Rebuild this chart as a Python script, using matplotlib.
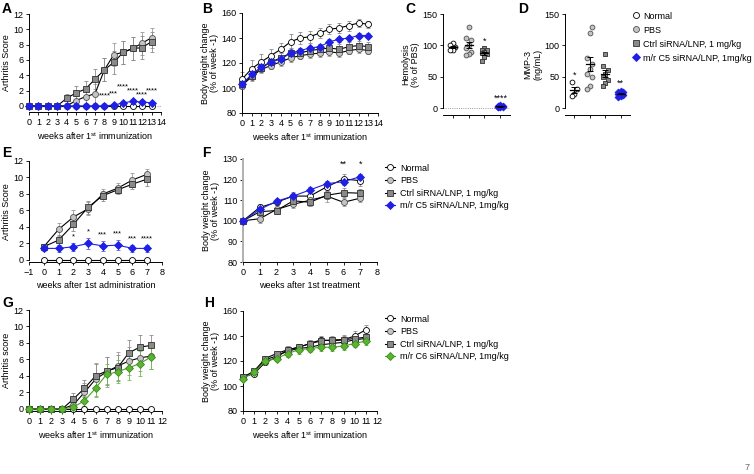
import numpy as np
import matplotlib
matplotlib.use('Agg')
import matplotlib.pyplot as plt
from matplotlib.lines import Line2D

plt.rcParams['font.family'] = ['Liberation Sans', 'DejaVu Sans']
plt.rcParams['mathtext.fontset'] = 'custom'
plt.rcParams['mathtext.rm'] = 'Liberation Sans'
plt.rcParams['axes.linewidth'] = 0.7

# ---- data -------------------------------------------------------------
# A: arthritis score, weeks 0-13
weeks_a = np.arange(14)
a_normal = np.zeros(14)
a_pbs = [0, 0, 0, 0, 0, 0.7, 1.2, 1.6, 4.7, 6.7, 7.0, 7.5, 8.2, 8.9]
a_pbs_err = [0, 0, 0, 0, 0, 0.6, 0.9, 1.2, 1.5, 1.5, 1.5, 1.5, 1.5, 1.3]
a_ctrl = [0, 0, 0, 0, 1.0, 1.7, 2.2, 3.5, 4.7, 5.7, 7.0, 7.5, 7.6, 8.4]
a_ctrl_err = [0, 0, 0, 0, 0.6, 0.9, 1.0, 1.3, 1.5, 1.5, 1.5, 1.5, 1.5, 1.3]
a_c5 = [0, 0, 0, 0, 0, 0, 0, 0, 0, 0.1, 0.4, 0.6, 0.5, 0.4]
a_c5_err = [0, 0, 0, 0, 0, 0, 0, 0, 0, 0.1, 0.3, 0.3, 0.3, 0.3]
a_stars = ['****', '***', '****', '****', '****', '****']
a_star_weeks = [8, 9, 10, 11, 12, 13]
a_star_y = [0.8, 1.15, 2.0, 1.5, 1.0, 1.5]

# B: body weight, weeks 0-13
b_normal = [107, 115.5, 121, 126, 131, 137, 140, 141, 144, 147, 148, 150, 152, 151]
b_normal_err = [6, 7, 6, 5, 5, 6, 5, 5, 4, 4, 4, 4, 3, 3]
b_pbs = [102, 109, 115, 118, 121, 124, 126, 127, 128, 129, 128, 130, 131, 130]
b_pbs_err = [3, 3, 3, 3, 3, 3, 3, 3, 3, 3, 3, 3, 3, 3]
b_ctrl = [103, 110, 116, 121, 124, 128, 128, 130, 131, 132, 131, 133, 134, 133]
b_ctrl_err = [3, 3, 3, 4, 4, 4, 4, 4, 4, 4, 4, 4, 4, 4]
b_c5 = [103, 111, 117, 121, 123, 128, 130, 132, 133, 137, 139, 140, 142, 142]
b_c5_err = [2, 2, 2, 2, 2, 2, 2, 2, 2, 2, 2, 2, 2, 2]

# C: hemolysis (% of PBS)
c_normal = [104, 101, 97, 93, 92]
c_pbs = [129, 112, 108, 100, 96, 90, 86, 84]
c_ctrl = [96, 93, 92, 90, 88, 86, 82, 75]
c_c5 = [5, 4, 3, 3, 2, 2, 1, 1]
c_stars = ['', '', '*', '****']

# D: MMP-3 (ng/mL)
d_normal = [42, 30, 22, 20]
d_pbs = [130, 119, 80, 70, 63, 55, 50, 35, 30]
d_ctrl = [87, 67, 60, 55, 50, 44, 40, 35]
d_c5 = [28, 26, 25, 24, 22, 21, 20, 18]
d_stars = ['*', '', '', '**']

# E: arthritis score, weeks 0-7 after administration
weeks_e = np.arange(8)
e_normal = np.zeros(8)
e_pbs = [1.6, 3.7, 5.2, 6.2, 8.0, 8.7, 9.7, 10.4]
e_pbs_err = [0.3, 0.8, 0.9, 0.8, 0.6, 0.6, 0.8, 0.6]
e_ctrl = [1.6, 2.4, 4.3, 6.4, 7.8, 8.5, 9.2, 9.8]
e_ctrl_err = [0.3, 0.6, 0.8, 0.8, 0.6, 0.5, 0.6, 0.8]
e_c5 = [1.4, 1.4, 1.6, 2.0, 1.7, 1.8, 1.4, 1.4]
e_c5_err = [0.3, 0.4, 0.5, 0.7, 0.6, 0.6, 0.4, 0.4]
e_stars = ['', '', '*', '*', '***', '***', '***', '****']

# F: body weight, weeks 0-7 after treatment
f_normal = [100, 106.5, 109, 112, 112, 116.5, 120.3, 119.5]
f_normal_err = [0, 1.5, 1.5, 2, 2, 2, 2.5, 2.5]
f_pbs = [100, 101, 105.5, 108, 110, 112, 109, 111]
f_pbs_err = [0, 2, 2, 2, 3, 3, 2, 2]
f_ctrl = [100, 104.4, 105, 109.7, 109, 112.4, 113.7, 113.4]
f_ctrl_err = [0, 1.5, 1.5, 2, 2, 2, 2, 2]
f_c5 = [100, 105.5, 109.5, 112, 115, 118, 119, 121.4]
f_c5_err = [0, 1, 1, 1, 1.5, 1.5, 1.5, 1.5]
f_stars = ['', '', '', '', '', '', '**', '*']

# G: arthritis score, weeks 0-11
weeks_g = np.arange(12)
g_normal = np.zeros(12)
g_pbs = [0, 0, 0, 0, 0.5, 2.0, 3.6, 4.5, 5.2, 5.8, 6.2, 6.4]
g_pbs_err = [0, 0, 0, 0, 0.5, 1.2, 2.0, 1.8, 1.7, 1.7, 1.6, 1.5]
g_ctrl = [0, 0, 0, 0, 1.2, 2.5, 4.0, 4.6, 5.0, 6.8, 7.5, 7.7]
g_ctrl_err = [0, 0, 0, 0, 0.7, 1.0, 1.5, 1.7, 1.6, 1.6, 1.5, 1.3]
g_c6 = [0, 0, 0, 0, 0.2, 1.0, 2.5, 4.2, 4.5, 5.0, 5.5, 6.3]
g_c6_err = [0, 0, 0, 0, 0.2, 0.6, 1.0, 1.2, 1.4, 1.5, 1.5, 1.5]

# H: body weight, weeks 0-11
h_normal = [107, 110, 119, 123, 129, 131, 134, 137, 136, 137, 140, 145]
h_normal_err = [2, 2, 2, 3, 3, 3, 3, 3, 3, 4, 4, 4]
h_pbs = [107, 111, 121, 124, 128, 130, 131, 133, 134, 135, 137, 138]
h_pbs_err = [2, 2, 2, 2, 3, 3, 3, 3, 3, 3, 3, 3]
h_ctrl = [107, 112, 122, 126, 129, 131, 134, 136, 137, 137, 138, 139]
h_ctrl_err = [2, 2, 2, 2, 3, 3, 3, 3, 3, 3, 3, 3]
h_c6 = [106, 111, 120, 122, 126, 129, 130, 131, 131, 132, 134, 136]
h_c6_err = [2, 2, 2, 2, 3, 3, 3, 3, 3, 3, 3, 3]

labels_c5 = ['Normal', 'PBS', 'Ctrl siRNA/LNP, 1 mg/kg', 'm/r C5 siRNA/LNP, 1mg/kg']
labels_c6 = ['Normal', 'PBS', 'Ctrl siRNA/LNP, 1 mg/kg', 'm/r C6 siRNA/LNP, 1mg/kg']

# ---- styles -----------------------------------------------------------
STY = {
    'normal': dict(marker='o', mfc='white', mec='black', line='black', err='#8c8c8c'),
    'pbs': dict(marker='o', mfc='#c4c4c4', mec='#505050', line='black', err='#9a9a9a'),
    'ctrl': dict(marker='s', mfc='#8a8a8a', mec='#303030', line='black', err='#8c8c8c'),
    'c5': dict(marker='D', mfc='#1f1fe6', mec='#1f1fe6', line='#1f1fe6', err='#5a5af0'),
    'c6': dict(marker='D', mfc='#5cb531', mec='#3d8a1e', line='#4a9e28', err='#6fbf47'),
}

W, H = 754, 474
fig = plt.figure(figsize=(W / 100, H / 100), dpi=100)


def px_axes(x0, x1, ytop, ybot):
    return fig.add_axes([x0 / W, 1 - ybot / H, (x1 - x0) / W, (ybot - ytop) / H])


def setup(ax, xlim, ylim, xticks, yticks, ylabel, xlabel=None, xlabels=True):
    ax.set_xlim(*xlim)
    ax.set_ylim(*ylim)
    for s in ['top', 'right']:
        ax.spines[s].set_visible(False)
    ax.spines['left'].set_bounds(yticks[0], yticks[-1])
    ax.set_xticks(xticks)
    ax.set_yticks(yticks)
    if not xlabels:
        ax.set_xticklabels([])
    ax.tick_params(direction='out', length=2.5, width=0.6, labelsize=6.5, pad=1.5)
    ax.set_ylabel(ylabel, fontsize=6.5, labelpad=1.5, linespacing=1.1)
    if xlabel:
        ax.set_xlabel(xlabel, fontsize=6.5, labelpad=3)


def series(ax, x, y, e, key, ms=4.3):
    st = STY[key]
    ax.errorbar(x, y, yerr=e, fmt='none', ecolor=st['err'], elinewidth=0.6,
                capsize=1.6, capthick=0.6, clip_on=False, zorder=2)
    ax.plot(x, y, color=st['line'], lw=0.8, marker=st['marker'],
            ms=ms if st['marker'] != 'D' else ms * 0.85, mfc=st['mfc'],
            mec=st['mec'], mew=0.6, clip_on=False, zorder=3)


def scatter_group(ax, pos, vals, key, star=''):
    st = STY[key]
    vals = np.asarray(vals, float)
    n = len(vals)
    order = np.argsort(vals)
    offs = np.zeros(n)
    offs[order] = ((np.arange(n) % 3) - 1) * 0.17
    ax.scatter(pos + offs, vals, s=12, marker=st['marker'], facecolor=st['mfc'],
               edgecolor=st['mec'], linewidth=0.6, zorder=3, clip_on=False)
    m = vals.mean()
    sem = vals.std(ddof=1) / np.sqrt(n)
    ax.plot([pos - 0.25, pos + 0.25], [m, m], color='black', lw=0.9, zorder=4)
    ax.errorbar([pos], [m], yerr=[sem], fmt='none', ecolor='black', elinewidth=0.7,
                capsize=2, capthick=0.7, zorder=4)
    if star:
        ax.text(pos, vals.max() + 4, star, ha='center', va='bottom', fontsize=6.5)


def panel_letter(x, y, s):
    fig.text(x / W, 1 - y / H, s, fontsize=10, fontweight='bold', va='top', ha='left')


imm = r'weeks after 1$^{\mathrm{st}}$ immunization'

# ---- A ----------------------------------------------------------------
axA = px_axes(29, 161, 14, 112)
setup(axA, (0, 14), (-0.8, 12), range(0, 15), range(0, 13, 2), 'Arthritis Score', imm)
axA.axhline(0, color='#777777', lw=0.6, ls=':', zorder=1)
series(axA, weeks_a, a_normal, None, 'normal')
series(axA, weeks_a, a_pbs, a_pbs_err, 'pbs')
series(axA, weeks_a, a_ctrl, a_ctrl_err, 'ctrl')
series(axA, weeks_a, a_c5, a_c5_err, 'c5')
for wk, s, yy in zip(a_star_weeks, a_stars, a_star_y):
    axA.text(wk, yy, s, ha='center', va='bottom', fontsize=5.5)

# ---- B ----------------------------------------------------------------
axB = px_axes(242, 378, 13, 113)
setup(axB, (0, 14), (80, 160), range(0, 15), range(80, 161, 20),
      'Body weight change\n(% of week -1)', imm)
series(axB, weeks_a, b_normal, b_normal_err, 'normal')
series(axB, weeks_a, b_pbs, b_pbs_err, 'pbs')
series(axB, weeks_a, b_ctrl, b_ctrl_err, 'ctrl')
series(axB, weeks_a, b_c5, b_c5_err, 'c5')

# ---- C ----------------------------------------------------------------
axC = px_axes(443, 510, 14, 115)
setup(axC, (-0.6, 3.6), (-11, 150), range(4), [0, 50, 100, 150],
      'Hemolysis\n(% of PBS)', xlabels=False)
axC.axhline(0, color='#777777', lw=0.6, ls=':', zorder=1)
for i, (vals, key) in enumerate(zip([c_normal, c_pbs, c_ctrl, c_c5],
                                    ['normal', 'pbs', 'ctrl', 'c5'])):
    scatter_group(axC, i, vals, key, c_stars[i])

# ---- D ----------------------------------------------------------------
axD = px_axes(565, 630, 14, 115)
setup(axD, (-0.6, 3.6), (-11, 150), range(4), [0, 50, 100, 150],
      'MMP-3\n(ng/mL)', xlabels=False)
for i, (vals, key) in enumerate(zip([d_normal, d_pbs, d_ctrl, d_c5],
                                    ['normal', 'pbs', 'ctrl', 'c5'])):
    scatter_group(axD, i, vals, key, d_stars[i])

handles = [Line2D([], [], ls='none', marker=STY[k]['marker'], ms=4.3 if k != 'c5' else 3.7,
                  mfc=STY[k]['mfc'], mec=STY[k]['mec'], mew=0.6)
           for k in ['normal', 'pbs', 'ctrl', 'c5']]
fig.legend(handles, labels_c5, loc='upper left', bbox_to_anchor=(629 / W, 1 - 8 / H),
           frameon=False, fontsize=6.5, handlelength=0.8, handletextpad=0.4,
           labelspacing=0.55, borderaxespad=0)

# ---- E ----------------------------------------------------------------
axE = px_axes(29, 162, 161, 262)
setup(axE, (-1, 8), (-0.25, 12), range(-1, 9), range(0, 13, 2), 'Arthritis Score',
      'weeks after 1st administration')
series(axE, weeks_e, e_normal, None, 'normal')
series(axE, weeks_e, e_pbs, e_pbs_err, 'pbs')
series(axE, weeks_e, e_ctrl, e_ctrl_err, 'ctrl')
series(axE, weeks_e, e_c5, e_c5_err, 'c5')
for wk, s in zip(weeks_e, e_stars):
    if s:
        axE.text(wk, e_c5[wk] + e_c5_err[wk] + 0.3, s, ha='center', va='bottom', fontsize=5.5)

# ---- F ----------------------------------------------------------------
axF = px_axes(243, 377, 159, 262)
setup(axF, (0, 8), (80, 130), range(0, 9), range(80, 131, 10),
      'Body weight change\n(% of week -1)', 'weeks after 1st treatment')
axF.spines['left'].set_color('#b0b0b0')
axF.spines['left'].set_linewidth(1.4)
series(axF, weeks_e, f_normal, f_normal_err, 'normal')
series(axF, weeks_e, f_pbs, f_pbs_err, 'pbs')
series(axF, weeks_e, f_ctrl, f_ctrl_err, 'ctrl')
series(axF, weeks_e, f_c5, f_c5_err, 'c5')
for wk, s in zip(weeks_e, f_stars):
    if s:
        top = max(f_normal[wk] + f_normal_err[wk], f_c5[wk] + f_c5_err[wk])
        axF.text(wk, top + 2.5, s, ha='center', va='bottom', fontsize=6.5)

handles_line = [Line2D([], [], color=STY[k]['line'], lw=0.8, marker=STY[k]['marker'],
                       ms=4.3 if STY[k]['marker'] != 'D' else 3.7,
                       mfc=STY[k]['mfc'], mec=STY[k]['mec'], mew=0.6)
                for k in ['normal', 'pbs', 'ctrl', 'c5']]
fig.legend(handles_line, labels_c5, loc='upper left', bbox_to_anchor=(381 / W, 1 - 160 / H),
           frameon=False, fontsize=6.5, handlelength=1.2, handletextpad=0.5,
           labelspacing=0.4, borderaxespad=0)

# ---- G ----------------------------------------------------------------
axG = px_axes(29, 162, 310, 411)
setup(axG, (0, 12), (-0.25, 12), range(0, 13), range(0, 13, 2), 'Arthritis score', imm)
series(axG, weeks_g, g_normal, None, 'normal')
series(axG, weeks_g, g_pbs, g_pbs_err, 'pbs')
series(axG, weeks_g, g_ctrl, g_ctrl_err, 'ctrl')
series(axG, weeks_g, g_c6, g_c6_err, 'c6')

# ---- H ----------------------------------------------------------------
axH = px_axes(243, 377, 311, 411)
setup(axH, (0, 12), (80, 160), range(0, 13), range(80, 161, 20),
      'Body weight change\n(% of week -1)', imm)
series(axH, weeks_g, h_normal, h_normal_err, 'normal')
series(axH, weeks_g, h_pbs, h_pbs_err, 'pbs')
series(axH, weeks_g, h_ctrl, h_ctrl_err, 'ctrl')
series(axH, weeks_g, h_c6, h_c6_err, 'c6')

handles_line6 = [Line2D([], [], color=STY[k]['line'], lw=0.8, marker=STY[k]['marker'],
                        ms=4.3 if STY[k]['marker'] != 'D' else 3.7,
                        mfc=STY[k]['mfc'], mec=STY[k]['mec'], mew=0.6)
                 for k in ['normal', 'pbs', 'ctrl', 'c6']]
fig.legend(handles_line6, labels_c6, loc='upper left', bbox_to_anchor=(381 / W, 1 - 311 / H),
           frameon=False, fontsize=6.5, handlelength=1.2, handletextpad=0.5,
           labelspacing=0.4, borderaxespad=0)

# ---- panel letters & page number ----------------------------------------
panel_letter(2, 2, 'A')
panel_letter(202, 2, 'B')
panel_letter(405, 2, 'C')
panel_letter(518, 2, 'D')
panel_letter(2, 146, 'E')
panel_letter(202, 146, 'F')
panel_letter(2, 296, 'G')
panel_letter(204, 296, 'H')
fig.text(750 / W, 1 - 468 / H, '7', fontsize=6.5, color='#666666', ha='right', va='center')

fig.savefig('out.png', dpi=100)
